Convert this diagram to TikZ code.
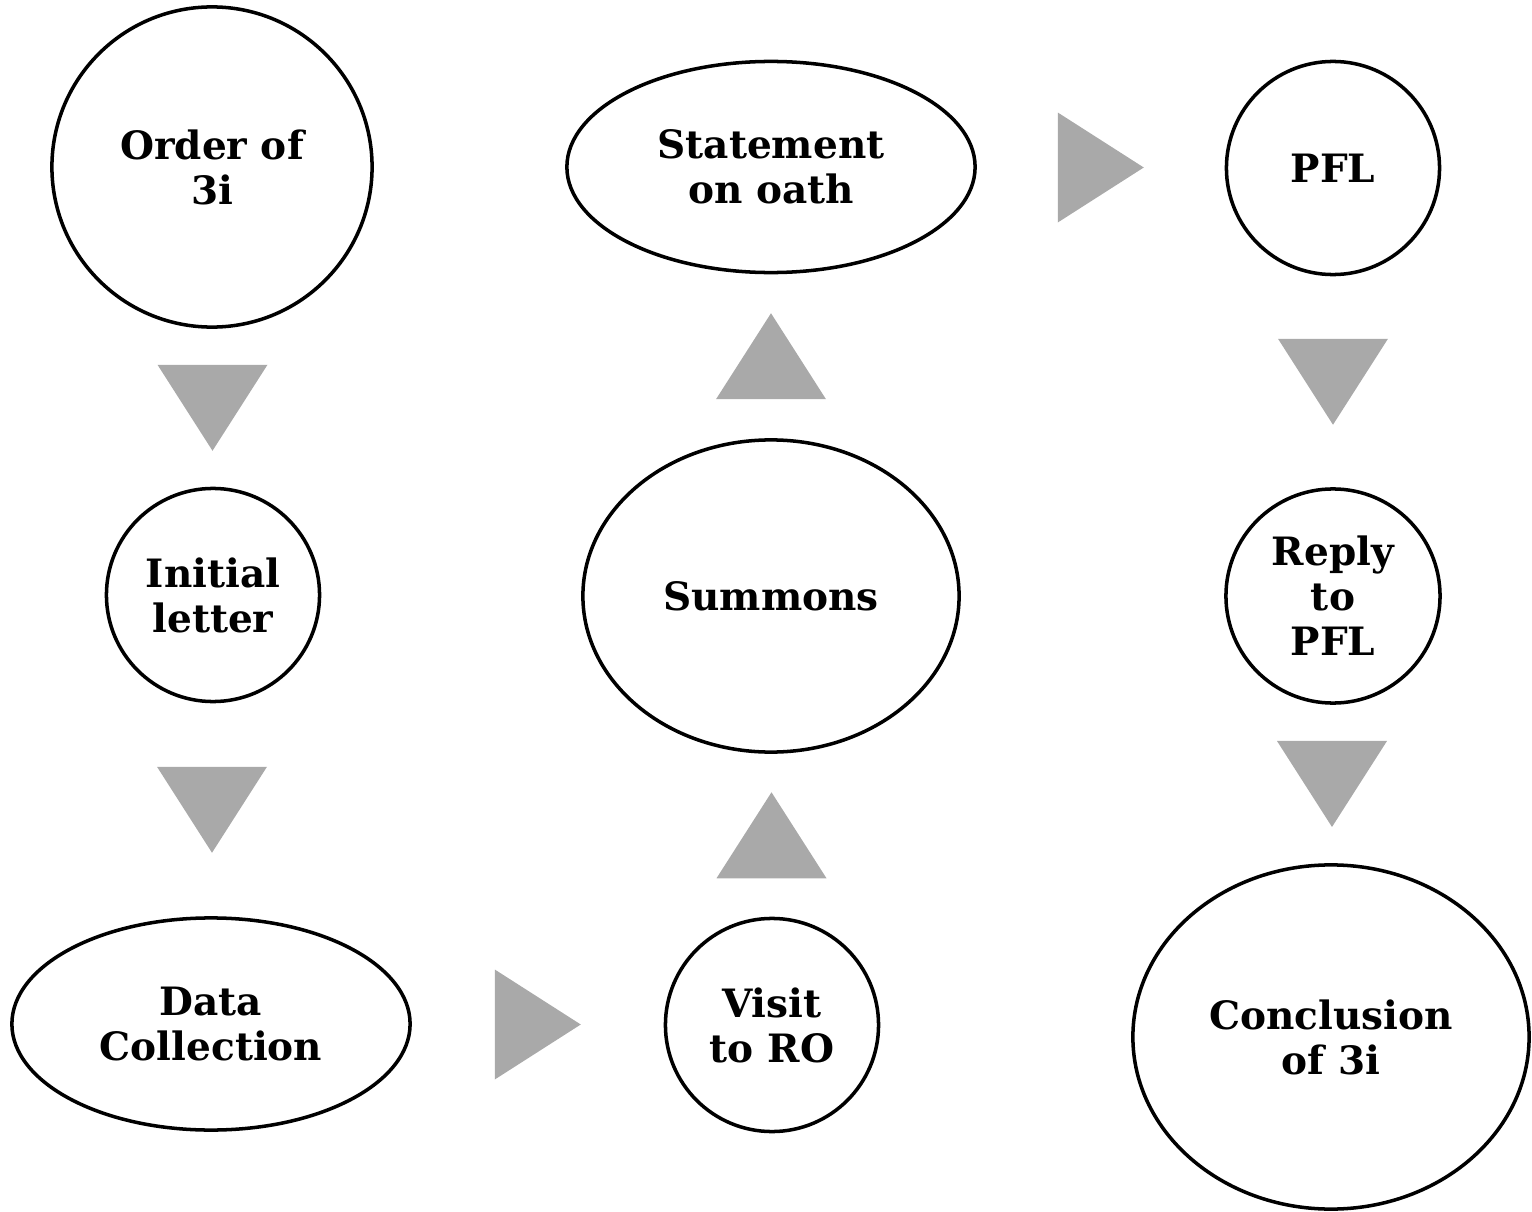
\documentclass[tikz,border=0pt]{standalone}
\usepackage{fontspec}
\setmainfont{DejaVu Serif}
\usetikzlibrary{shapes.geometric,calc}
\definecolor{arrowgray}{HTML}{A9A9A9}
\tikzset{stage/.style={ellipse,draw=black,line width=1pt,inner sep=0pt,align=center,font=\bfseries\fontsize{11.1}{12.8}\selectfont},
         tri/.style={fill=arrowgray}}

\begin{document}
\begin{tikzpicture}[x=0.01cm,y=-0.01cm]
\useasboundingbox (0,0) rectangle (1532,1212);

% first column
\node[stage,minimum width=3.2cm,minimum height=3.2cm] (order) at (212,167) {Order of\\3i};
\node[stage,minimum width=2.13cm,minimum height=2.13cm] (initial) at (213,595) {Initial\\letter};
\node[stage,minimum width=3.98cm,minimum height=2.12cm] (data) at (211,1024) {Data\\Collection};

% second column
\node[stage,minimum width=2.13cm,minimum height=2.13cm] (visit) at (772,1025) {Visit\\to RO};
\node[stage,minimum width=3.76cm,minimum height=3.12cm] (summons) at (771,596) {Summons};
\node[stage,minimum width=4.08cm,minimum height=2.11cm] (statement) at (771,167) {Statement\\on oath};

% third column
\node[stage,minimum width=2.13cm,minimum height=2.13cm] (pfl) at (1333,168) {PFL};
\node[stage,minimum width=2.14cm,minimum height=2.14cm] (reply) at (1333,596) {Reply\\to\\PFL};
\node[stage,minimum width=3.96cm,minimum height=3.44cm] (conclusion) at (1331,1037) {Conclusion\\of 3i};

% arrow heads between stages
\coordinate (t1) at ($(order.south)!0.5!(initial.north)$);
\coordinate (t2) at ($(initial.south)!0.5!(data.north)$);
\coordinate (t3) at ($(data.east)!0.5!(visit.west)$);
\coordinate (t4) at ($(visit.north)!0.5!(summons.south)$);
\coordinate (t5) at ($(summons.north)!0.5!(statement.south)$);
\coordinate (t6) at ($(statement.east)!0.5!(pfl.west)$);
\coordinate (t7) at ($(pfl.south)!0.5!(reply.north)$);
\coordinate (t8) at ($(reply.south)!0.5!(conclusion.north)$);

\foreach \t/\a in {t1/0,t2/0,t3/90,t4/180,t5/180,t6/90,t7/0,t8/0}
{
  \fill[tri,shift={(\t)},rotate=\a] (-55,-43) -- (55,-43) -- (0,43) -- cycle;
}

\end{tikzpicture}
\end{document}
